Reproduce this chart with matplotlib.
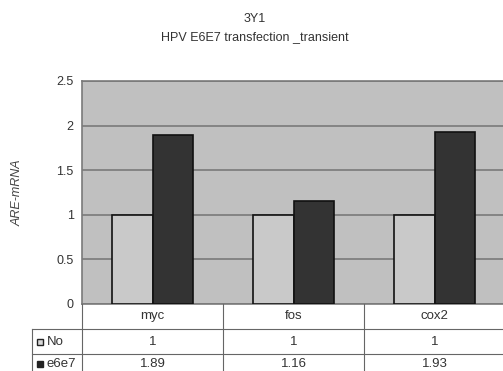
import matplotlib
matplotlib.use("Agg")
from matplotlib import pyplot as plt
from matplotlib.lines import Line2D
from matplotlib.patches import Rectangle
import numpy as np

plt.rcParams['font.family'] = ['Liberation Sans', 'DejaVu Sans']

# --------------------------- DATA ---------------------------

genes = ['myc', 'fos', 'cox2']
series = ['No', 'e6e7']
no_vals = [1, 1, 1]
e6e7_vals = [1.89, 1.16, 1.93]
bar_colors = ['#c9c9c9', '#333333']
y_ticks = [0, 0.5, 1, 1.5, 2, 2.5]

# --------------------------- FIGURE ---------------------------

W, H = 503, 371
fig = plt.figure(figsize=(W / 100, H / 100), dpi=100)

left_px, right_px, top_px, bottom_px = 82, 505, 81, 304
ax = fig.add_axes([left_px / W, 1 - bottom_px / H,
                   (right_px - left_px) / W, (bottom_px - top_px) / H])
ax.set_facecolor('#c0c0c0')

x = np.arange(len(genes))
bw = 0.29
ax.bar(x - bw / 2, no_vals, bw, color=bar_colors[0], edgecolor='#111111', linewidth=1.2, zorder=3)
ax.bar(x + bw / 2, e6e7_vals, bw, color=bar_colors[1], edgecolor='#111111', linewidth=1.2, zorder=3)

ax.set_xlim(-0.5, len(genes) - 0.5)
ax.set_ylim(0, 2.5)
ax.set_yticks(y_ticks)
ax.set_yticklabels(['0', '0.5', '1', '1.5', '2', '2.5'], fontsize=9, color='#333333')
ax.tick_params(axis='y', length=0, pad=6)
ax.set_xticks([])
ax.yaxis.grid(True, color='#7a7a7a', linewidth=1.2, zorder=1)
for s in ['top', 'left', 'bottom', 'right']:
    ax.spines[s].set_color('#7a7a7a')
    ax.spines[s].set_linewidth(1.2)
ax.set_ylabel('ARE-mRNA', fontsize=9, style='italic', color='#444444', labelpad=0)
ax.yaxis.set_label_coords(-(82 - 24) / (right_px - left_px), 0.5)

fig.text(255 / W, 1 - 19 / H, '3Y1', ha='center', va='center', fontsize=9, color='#333333')
fig.text(255 / W, 1 - 37 / H, 'HPV E6E7 transfection _transient', ha='center', va='center',
         fontsize=9, color='#333333')

# --------------------------- DATA TABLE ---------------------------

def fx(px):
    return px / W

def fy(py):
    return 1 - py / H

line_kw = dict(color='#666666', linewidth=0.8, transform=fig.transFigure)
col_w = (right_px - left_px) / len(genes)
table_left = 32

# horizontal lines
fig.add_artist(Line2D([fx(table_left), fx(right_px)], [fy(329), fy(329)], **line_kw))
fig.add_artist(Line2D([fx(table_left), fx(right_px)], [fy(354), fy(354)], **line_kw))
# vertical lines
fig.add_artist(Line2D([fx(left_px), fx(left_px)], [fy(304), fy(H + 2)], **line_kw))
fig.add_artist(Line2D([fx(table_left), fx(table_left)], [fy(329), fy(H + 2)], **line_kw))
for i in range(1, len(genes) + 1):
    xp = left_px + i * col_w
    fig.add_artist(Line2D([fx(xp), fx(xp)], [fy(304), fy(H + 2)], **line_kw))

tsize = 9.5
for i, g in enumerate(genes):
    cx = left_px + (i + 0.5) * col_w
    fig.text(fx(cx), fy(316), g, ha='center', va='center', fontsize=tsize, color='#333333')
    fig.text(fx(cx), fy(342), f'{no_vals[i]:g}', ha='center', va='center', fontsize=tsize, color='#333333')
    fig.text(fx(cx), fy(364), f'{e6e7_vals[i]:.2f}', ha='center', va='center', fontsize=tsize, color='#333333')

for j, (name, yc) in enumerate(zip(series, [342, 364])):
    fig.add_artist(Rectangle((fx(37), fy(yc + 3)), 6 / W, 6 / H, transform=fig.transFigure,
                             facecolor='#d8d8d8' if j == 0 else '#222222',
                             edgecolor='#222222', linewidth=1.0))
    fig.text(fx(46.5), fy(yc), name, ha='left', va='center', fontsize=tsize, color='#333333')

fig.savefig('out.png', dpi=100)
